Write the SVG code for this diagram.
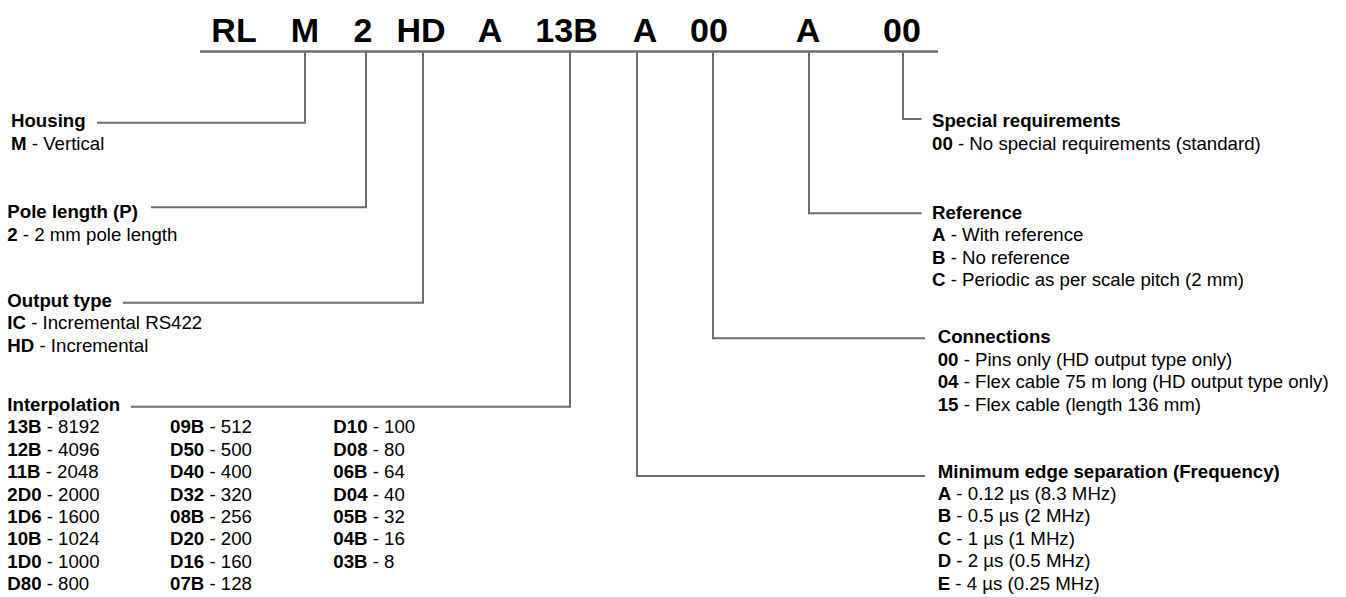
<svg xmlns="http://www.w3.org/2000/svg" width="1346" height="597" viewBox="0 0 1346 597">
<style>
.t{font-family:"Liberation Sans",Arial,sans-serif;font-size:18.67px;fill:#000}
.b{font-weight:bold}
.code{font-family:"Liberation Sans",Arial,sans-serif;font-size:34px;font-weight:bold;fill:#000;text-anchor:middle}
.ln{fill:none;stroke:#6e6e6e;stroke-width:2}
.hl{fill:none;stroke:#6e6e6e;stroke-width:2.6}
</style>
<rect width="1346" height="597" fill="#fff"/>
<g id="part-number">
<text class="code" x="234" y="42">RL</text>
<text class="code" x="305" y="42">M</text>
<text class="code" x="363" y="42">2</text>
<text class="code" x="421" y="42">HD</text>
<text class="code" x="490" y="42">A</text>
<text class="code" x="566.5" y="42">13B</text>
<text class="code" x="645" y="42">A</text>
<text class="code" x="709" y="42">00</text>
<text class="code" x="808" y="42">A</text>
<text class="code" x="902" y="42">00</text>
<line class="hl" x1="200" y1="51.5" x2="938" y2="51.5"/>
</g>
<g id="connectors">
<polyline class="ln" points="305,51.5 305,122.7 97,122.7"/>
<polyline class="ln" points="366,51.5 366,207.3 151,207.3"/>
<polyline class="ln" points="423,51.5 423,302.7 123,302.7"/>
<polyline class="ln" points="570,51.5 570,406.7 131,406.7"/>
<polyline class="ln" points="637,51.5 637,476 925,476"/>
<polyline class="ln" points="713,51.5 713,338.3 925,338.3"/>
<polyline class="ln" points="809,51.5 809,213.3 921.5,213.3"/>
<polyline class="ln" points="903,51.5 903,119 921.5,119"/>
</g>
<g id="housing">
<text class="t b" x="11" y="127.3">Housing</text>
<text class="t" x="11" y="149.7"><tspan class="b">M</tspan> - Vertical</text>
</g>
<g id="pole-length">
<text class="t b" x="7.3" y="218.3">Pole length (P)</text>
<text class="t" x="7.3" y="240.7"><tspan class="b">2</tspan> - 2 mm pole length</text>
</g>
<g id="output-type">
<text class="t b" x="7.3" y="306.7">Output type</text>
<text class="t" x="7.3" y="329.1"><tspan class="b">IC</tspan> - Incremental RS422</text>
<text class="t" x="7.3" y="351.5"><tspan class="b">HD</tspan> - Incremental</text>
</g>
<g id="interpolation">
<text class="t b" x="7.3" y="410.9">Interpolation</text>
<text class="t" x="7.3" y="433.3"><tspan class="b">13B</tspan> - 8192</text>
<text class="t" x="7.3" y="455.7"><tspan class="b">12B</tspan> - 4096</text>
<text class="t" x="7.3" y="478.1"><tspan class="b">11B</tspan> - 2048</text>
<text class="t" x="7.3" y="500.5"><tspan class="b">2D0</tspan> - 2000</text>
<text class="t" x="7.3" y="522.9"><tspan class="b">1D6</tspan> - 1600</text>
<text class="t" x="7.3" y="545.3"><tspan class="b">10B</tspan> - 1024</text>
<text class="t" x="7.3" y="567.7"><tspan class="b">1D0</tspan> - 1000</text>
<text class="t" x="7.3" y="590.1"><tspan class="b">D80</tspan> - 800</text>
<text class="t" x="170" y="433.3"><tspan class="b">09B</tspan> - 512</text>
<text class="t" x="170" y="455.7"><tspan class="b">D50</tspan> - 500</text>
<text class="t" x="170" y="478.1"><tspan class="b">D40</tspan> - 400</text>
<text class="t" x="170" y="500.5"><tspan class="b">D32</tspan> - 320</text>
<text class="t" x="170" y="522.9"><tspan class="b">08B</tspan> - 256</text>
<text class="t" x="170" y="545.3"><tspan class="b">D20</tspan> - 200</text>
<text class="t" x="170" y="567.7"><tspan class="b">D16</tspan> - 160</text>
<text class="t" x="170" y="590.1"><tspan class="b">07B</tspan> - 128</text>
<text class="t" x="333.3" y="433.3"><tspan class="b">D10</tspan> - 100</text>
<text class="t" x="333.3" y="455.7"><tspan class="b">D08</tspan> - 80</text>
<text class="t" x="333.3" y="478.1"><tspan class="b">06B</tspan> - 64</text>
<text class="t" x="333.3" y="500.5"><tspan class="b">D04</tspan> - 40</text>
<text class="t" x="333.3" y="522.9"><tspan class="b">05B</tspan> - 32</text>
<text class="t" x="333.3" y="545.3"><tspan class="b">04B</tspan> - 16</text>
<text class="t" x="333.3" y="567.7"><tspan class="b">03B</tspan> - 8</text>
</g>
<g id="special-requirements">
<text class="t b" x="932" y="127.3">Special requirements</text>
<text class="t" x="932" y="149.7"><tspan class="b">00</tspan> - No special requirements (standard)</text>
</g>
<g id="reference">
<text class="t b" x="932" y="219">Reference</text>
<text class="t" x="932" y="241.4"><tspan class="b">A</tspan> - With reference</text>
<text class="t" x="932" y="263.8"><tspan class="b">B</tspan> - No reference</text>
<text class="t" x="932" y="286.2"><tspan class="b">C</tspan> - Periodic as per scale pitch (2 mm)</text>
</g>
<g id="connections">
<text class="t b" x="937.7" y="343.3">Connections</text>
<text class="t" x="937.7" y="365.7"><tspan class="b">00</tspan> - Pins only (HD output type only)</text>
<text class="t" x="937.7" y="388.1"><tspan class="b">04</tspan> - Flex cable 75 m long (HD output type only)</text>
<text class="t" x="937.7" y="410.5"><tspan class="b">15</tspan> - Flex cable (length 136 mm)</text>
</g>
<g id="minimum-edge-separation">
<text class="t b" x="937.7" y="477.5">Minimum edge separation (Frequency)</text>
<text class="t" x="937.7" y="499.9"><tspan class="b">A</tspan> - 0.12 µs (8.3 MHz)</text>
<text class="t" x="937.7" y="522.3"><tspan class="b">B</tspan> - 0.5 µs (2 MHz)</text>
<text class="t" x="937.7" y="544.7"><tspan class="b">C</tspan> - 1 µs (1 MHz)</text>
<text class="t" x="937.7" y="567.1"><tspan class="b">D</tspan> - 2 µs (0.5 MHz)</text>
<text class="t" x="937.7" y="589.5"><tspan class="b">E</tspan> - 4 µs (0.25 MHz)</text>
</g>
</svg>
